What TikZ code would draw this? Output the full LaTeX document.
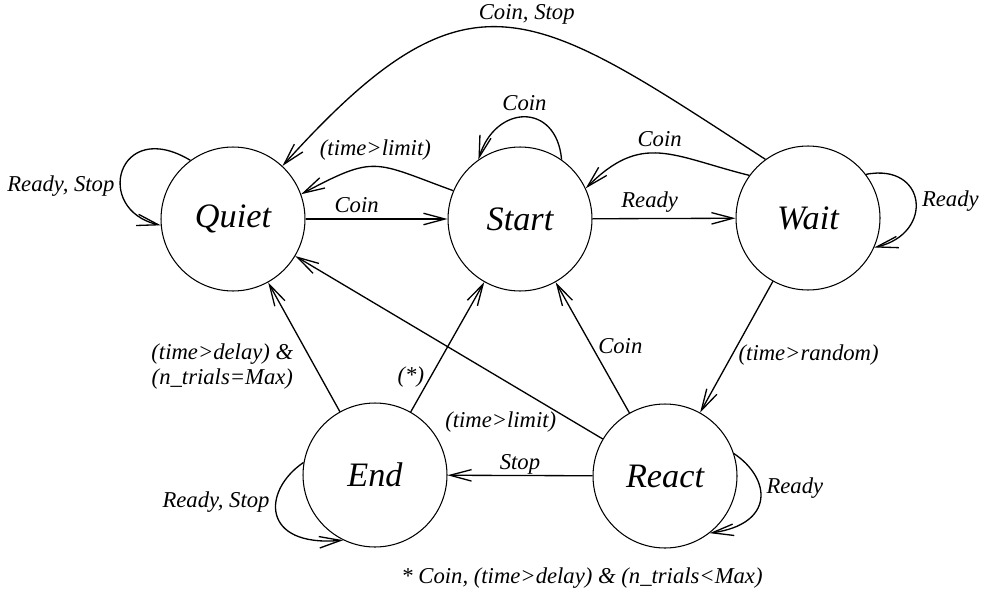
\documentclass[tikz,border=0pt]{standalone}
\usepackage{fontspec}
\setmainfont{Liberation Serif}
\usetikzlibrary{arrows.meta}

\begin{document}
\begin{tikzpicture}[x=0.02cm,y=0.02cm,
  state/.style={circle,draw,line width=0.6pt,minimum size=2.88cm,inner sep=0pt,
    font=\fontsize{19.5}{22}\selectfont\itshape},
  trans/.style={line width=0.75pt,-{Straight Barb[length=4.3mm,width=2.3mm]}},
  lbl/.style={font=\fontsize{12.9}{14.4}\selectfont\itshape}]
\useasboundingbox (0,0) rectangle (986,596);

\node[state] (quiet) at (233,377) {Quiet};
\node[state] (start) at (520,377) {Start};
\node[state] (wait) at (808,378) {Wait};
\node[state] (end) at (375,121) {End};
\node[state] (react) at (665,120) {React};

\draw[trans] (quiet.126) .. controls +(149:85) and +(167:70) .. node[lbl,pos=.62,left] {Ready, Stop} (quiet.185);
\draw[trans] (start.55) .. controls +(95:58) and +(73:58) .. node[lbl,above] {Coin} (start.125);
\draw[trans] (wait.37) .. controls +(11:62) and +(13:62) .. node[lbl,right] {Ready} (wait.-24);
\draw[trans] (react.18) .. controls +(-34:45) and +(8:66) .. node[lbl,pos=.38,right] {Ready} (react.-52);
\draw[trans] (end.170) .. controls +(214:50) and +(185:83) .. node[lbl,pos=.38,left] {Ready, Stop} (end.244);

\draw[trans] (quiet) -- node[lbl,pos=.36,above] {Coin} (start);
\draw[trans] (start) -- node[lbl,pos=.4,above] {Ready} (wait);
\draw[trans] (start.157) .. controls +(160:85) and +(28:85) .. node[lbl,above] {(time>limit)} (quiet.20);
\draw[trans] (wait.144) .. controls +(166:80) and +(45:80) .. node[lbl,above] {Coin} (start.25);
\draw[trans] (wait.126) .. controls +(147:280) and +(48:280) .. node[lbl,pos=.45,above] {Coin, Stop} (quiet.47);

\draw[trans] (wait) -- node[lbl,pos=.56,right] {(time>random)} (react);
\draw[trans] (react) -- node[lbl,pos=.5,above,yshift=-1mm] {Stop} (end);
\draw[trans] (react) -- node[lbl,pos=.51,right] {Coin} (start);
\draw[trans] (react) -- node[lbl,pos=.13,anchor=north east,yshift=2mm] {(time>limit)} (quiet);
\draw[trans] (end) -- node[lbl,pos=.27,left] {(*)} (start);
\draw[trans] (end) -- node[lbl,pos=.35,left=3mm,align=center] {(time>delay) \&\\(n\_trials=Max)} (quiet);

\node[lbl] (note) at (582,18) {* Coin, (time>delay) \& (n\_trials<Max)};
\end{tikzpicture}
\end{document}
